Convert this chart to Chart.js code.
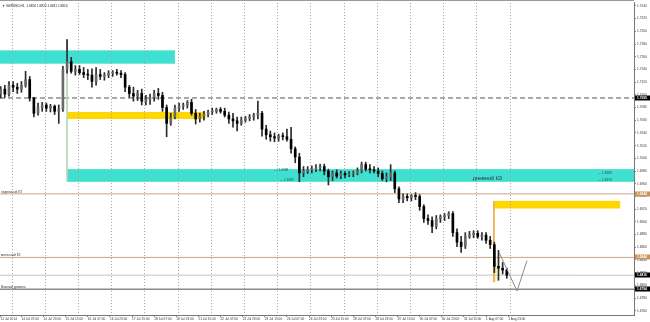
<!DOCTYPE html>
<html>
<head>
<meta charset="utf-8">
<script src="https://cdn.jsdelivr.net/npm/chart.js@4/dist/chart.umd.min.js"></script>
<style>
  html, body { margin: 0; padding: 0; background: #fff; }
  #chart { display: block; }
</style>
</head>
<body>
<canvas id="chart" width="650" height="322"></canvas>
<script>
// 캔들 데이터 (3시간 묶음, GBPUSD H1)
const candleStartHour = -9;
const candleHours = 3;

const openPrices = [
  1.7102, 1.7109, 1.7101, 1.7115, 1.7112, 1.7109, 1.7115, 1.7124, 1.7095, 1.7071,
  1.7080, 1.7084, 1.7079, 1.7082, 1.7074, 1.7077, 1.7140, 1.7152, 1.7137, 1.7140,
  1.7135, 1.7132, 1.7131, 1.7121, 1.7132, 1.7129, 1.7131, 1.7134, 1.7135, 1.7134,
  1.7132, 1.7112, 1.7102, 1.7098, 1.7102, 1.7090, 1.7093, 1.7096, 1.7102, 1.7099,
  1.7080, 1.7055, 1.7065, 1.7079, 1.7082, 1.7084, 1.7088, 1.7071, 1.7062, 1.7066,
  1.7069, 1.7073, 1.7074, 1.7077, 1.7074, 1.7068, 1.7062, 1.7059, 1.7055, 1.7060,
  1.7063, 1.7065, 1.7068, 1.7071, 1.7046, 1.7037, 1.7034, 1.7032, 1.7035, 1.7034,
  1.7030, 1.7015, 1.7002, 1.6977, 1.6980, 1.6982, 1.6983, 1.6985, 1.6987, 1.6980,
  1.6971, 1.6977, 1.6972, 1.6976, 1.6974, 1.6976, 1.6977, 1.6980, 1.6990, 1.6983,
  1.6982, 1.6980, 1.6976, 1.6968, 1.6971, 1.6977, 1.6952, 1.6936, 1.6940, 1.6938,
  1.6941, 1.6940, 1.6924, 1.6905, 1.6902, 1.6893, 1.6905, 1.6908, 1.6910, 1.6913,
  1.6883, 1.6868, 1.6861, 1.6877, 1.6880, 1.6882, 1.6877, 1.6879, 1.6871, 1.6864,
  1.6830, 1.6827, 1.6824
];
const highPrices = [
  1.7113, 1.7115, 1.7121, 1.7121, 1.7118, 1.7121, 1.7137, 1.7129, 1.7096, 1.7087,
  1.7088, 1.7087, 1.7085, 1.7084, 1.7084, 1.7145, 1.7187, 1.7159, 1.7146, 1.7146,
  1.7143, 1.7140, 1.7141, 1.7143, 1.7140, 1.7135, 1.7138, 1.7138, 1.7140, 1.7138,
  1.7135, 1.7115, 1.7112, 1.7107, 1.7109, 1.7099, 1.7101, 1.7107, 1.7110, 1.7104,
  1.7084, 1.7071, 1.7084, 1.7087, 1.7087, 1.7091, 1.7093, 1.7077, 1.7071, 1.7074,
  1.7076, 1.7079, 1.7079, 1.7080, 1.7079, 1.7073, 1.7071, 1.7065, 1.7065, 1.7066,
  1.7069, 1.7071, 1.7090, 1.7074, 1.7052, 1.7043, 1.7040, 1.7038, 1.7040, 1.7046,
  1.7049, 1.7018, 1.7008, 1.6987, 1.6987, 1.6988, 1.6990, 1.6991, 1.6991, 1.6983,
  1.6980, 1.6982, 1.6980, 1.6979, 1.6979, 1.6980, 1.6985, 1.6994, 1.6994, 1.6990,
  1.6987, 1.6985, 1.6980, 1.6977, 1.6990, 1.6980, 1.6955, 1.6944, 1.6944, 1.6943,
  1.6946, 1.6943, 1.6927, 1.6911, 1.6908, 1.6910, 1.6911, 1.6913, 1.6916, 1.6916,
  1.6889, 1.6877, 1.6883, 1.6885, 1.6886, 1.6886, 1.6883, 1.6883, 1.6877, 1.6868,
  1.6855, 1.6836, 1.6827
];
const lowPrices = [
  1.7095, 1.7096, 1.7098, 1.7105, 1.7102, 1.7104, 1.7112, 1.7090, 1.7065, 1.7068,
  1.7074, 1.7074, 1.7073, 1.7069, 1.7055, 1.7074, 1.7134, 1.7134, 1.7131, 1.7132,
  1.7127, 1.7124, 1.7112, 1.7115, 1.7124, 1.7123, 1.7127, 1.7129, 1.7131, 1.7127,
  1.7105, 1.7096, 1.7090, 1.7091, 1.7084, 1.7084, 1.7085, 1.7090, 1.7093, 1.7074,
  1.7034, 1.7052, 1.7062, 1.7074, 1.7077, 1.7079, 1.7068, 1.7054, 1.7057, 1.7060,
  1.7065, 1.7069, 1.7071, 1.7071, 1.7065, 1.7055, 1.7049, 1.7043, 1.7052, 1.7057,
  1.7059, 1.7060, 1.7062, 1.7035, 1.7030, 1.7027, 1.7026, 1.7027, 1.7029, 1.7027,
  1.7008, 1.6993, 1.6963, 1.6971, 1.6976, 1.6977, 1.6979, 1.6980, 1.6974, 1.6958,
  1.6965, 1.6969, 1.6968, 1.6969, 1.6971, 1.6971, 1.6974, 1.6977, 1.6980, 1.6977,
  1.6977, 1.6971, 1.6965, 1.6963, 1.6965, 1.6946, 1.6930, 1.6930, 1.6933, 1.6933,
  1.6935, 1.6918, 1.6899, 1.6896, 1.6883, 1.6889, 1.6899, 1.6902, 1.6905, 1.6877,
  1.6861, 1.6852, 1.6858, 1.6874, 1.6875, 1.6874, 1.6871, 1.6866, 1.6858, 1.6820,
  1.6808, 1.6818, 1.6811
];
const closePrices = [
  1.7109, 1.7101, 1.7115, 1.7112, 1.7109, 1.7115, 1.7124, 1.7095, 1.7071, 1.7080,
  1.7084, 1.7079, 1.7082, 1.7074, 1.7077, 1.7140, 1.7152, 1.7137, 1.7140, 1.7135,
  1.7132, 1.7131, 1.7121, 1.7132, 1.7129, 1.7131, 1.7134, 1.7135, 1.7134, 1.7132,
  1.7112, 1.7102, 1.7098, 1.7102, 1.7090, 1.7093, 1.7096, 1.7102, 1.7099, 1.7080,
  1.7055, 1.7065, 1.7079, 1.7082, 1.7084, 1.7088, 1.7071, 1.7062, 1.7066, 1.7069,
  1.7073, 1.7074, 1.7077, 1.7074, 1.7068, 1.7062, 1.7059, 1.7055, 1.7060, 1.7063,
  1.7065, 1.7068, 1.7071, 1.7046, 1.7037, 1.7034, 1.7032, 1.7035, 1.7034, 1.7030,
  1.7015, 1.7002, 1.6977, 1.6980, 1.6982, 1.6983, 1.6985, 1.6987, 1.6980, 1.6971,
  1.6977, 1.6972, 1.6976, 1.6974, 1.6976, 1.6977, 1.6980, 1.6990, 1.6983, 1.6982,
  1.6980, 1.6976, 1.6968, 1.6971, 1.6977, 1.6952, 1.6936, 1.6940, 1.6938, 1.6941,
  1.6940, 1.6924, 1.6905, 1.6902, 1.6893, 1.6905, 1.6908, 1.6910, 1.6913, 1.6883,
  1.6868, 1.6861, 1.6877, 1.6880, 1.6882, 1.6877, 1.6879, 1.6871, 1.6864, 1.6830,
  1.6827, 1.6824, 1.6816
];

// 축 눈금
const xTickHours = [-8, 7, 23, 39, 55, 71, 87, 103, 119, 135, 151, 167, 183, 199, 215, 231, 247, 263, 279, 295, 311, 327, 343, 359];
const xTickLabels = [
  '11 Jul 2014', '14 Jul 07:00', '14 Jul 23:00', '15 Jul 15:00', '16 Jul 07:00', '16 Jul 23:00',
  '17 Jul 15:00', '18 Jul 07:00', '18 Jul 23:00', '21 Jul 15:00', '22 Jul 07:00', '22 Jul 23:00',
  '23 Jul 15:00', '24 Jul 07:00', '24 Jul 23:00', '25 Jul 15:00', '28 Jul 07:00', '28 Jul 23:00',
  '29 Jul 15:00', '30 Jul 07:00', '30 Jul 23:00', '31 Jul 15:00', '1 Aug 07:00', '1 Aug 23:00'
];
const yTickValues = [
  1.7240, 1.7220, 1.7200, 1.7180, 1.7160, 1.7140, 1.7120, 1.7100, 1.7080, 1.7060, 1.7040, 1.7020, 1.7000,
  1.6980, 1.6960, 1.6940, 1.6920, 1.6900, 1.6880, 1.6860, 1.6840, 1.6820, 1.6800, 1.6780, 1.6760
];
const daySeparatorHours = [0, 24, 48, 72, 96, 120, 144, 168, 192, 216, 240, 264, 288, 312, 336, 360];

// 수평 레벨
const levelPrices = [1.7095, 1.6944, 1.6844, 1.6816, 1.6794];
const levelNames = ['', 'недельный КЗ', 'месячный КЗ', '', 'Важный уровень'];

// 구간 박스 (시간, 가격)
const zoneHours = [[-30, 118], [40, 140], [40, 470], [349, 440], [349, 351]];
const zonePrices = [[1.7149, 1.7170], [1.7062, 1.7073], [1.6963, 1.6983], [1.6921, 1.6933], [1.6805, 1.6836]];
const zoneTagHours = [190, 194, 424, 424];
const zoneTagPrices = [1.6982, 1.6965, 1.6976, 1.6965];
const zoneTagTexts = ['1.6988', '1.6969', '1.6983', '1.6970'];
const dailyLabelHour = 344;
const dailyLabelPrice = 1.6968;

// 보조선
const markerHours = [40, 348.7];
const markerPrices = [[1.7187, 1.6963], [1.6933, 1.6805]];
const projectionHours = [352.4, 365.4, 372.6];
const projectionPrices = [1.6852, 1.6791, 1.6839];

const xMin = -8.5;
const xMax = 450;

const candleX = openPrices.map((_, i) => candleStartHour + 1 + i * candleHours);
const fontFamily = '"Liberation Sans", Arial, sans-serif';

// 박스, 구분선, 글자 그리기
const overlayPlugin = {
  id: 'overlay',
  beforeDatasetsDraw(chart) {
    const { ctx, chartArea, scales: { x, y } } = chart;
    ctx.save();
    ctx.beginPath();
    ctx.rect(chartArea.left, chartArea.top, chartArea.right - chartArea.left, chartArea.bottom - chartArea.top);
    ctx.clip();

    // 구간 박스
    const zoneColors = ['#40e0d0', '#ffd700', '#40e0d0', '#ffd700', 'rgba(255, 215, 0, 0.3)'];
    zoneHours.forEach((hr, i) => {
      const x0 = x.getPixelForValue(hr[0]);
      const x1 = x.getPixelForValue(hr[1]);
      const y0 = y.getPixelForValue(zonePrices[i][1]);
      const y1 = y.getPixelForValue(zonePrices[i][0]);
      ctx.fillStyle = zoneColors[i];
      ctx.fillRect(x0, y0, x1 - x0, y1 - y0);
    });

    // 일 구분선
    ctx.strokeStyle = '#a4a4a4';
    ctx.lineWidth = 1;
    ctx.setLineDash([1, 2]);
    daySeparatorHours.forEach(h => {
      const px = Math.round(x.getPixelForValue(h)) + 0.5;
      ctx.beginPath();
      ctx.moveTo(px, chartArea.top);
      ctx.lineTo(px, chartArea.bottom);
      ctx.stroke();
    });
    ctx.setLineDash([]);
    ctx.restore();
  },
  afterDraw(chart) {
    const { ctx, chartArea, scales: { x, y } } = chart;
    ctx.save();

    // 위쪽 테두리
    ctx.strokeStyle = '#9a9a9a';
    ctx.lineWidth = 1;
    ctx.beginPath();
    ctx.moveTo(0, 0.5);
    ctx.lineTo(chartArea.right, 0.5);
    ctx.stroke();

    // 제목
    ctx.fillStyle = '#222';
    ctx.font = '3.2px ' + fontFamily;
    ctx.textBaseline = 'middle';
    ctx.textAlign = 'left';
    ctx.fillText('▼ GBPUSD,H1  1.6816 1.6820 1.6811 1.6816', chartArea.left + 2, chartArea.top + 3);

    // 레벨 이름
    ctx.fillStyle = '#333';
    ctx.textBaseline = 'bottom';
    levelNames.forEach((name, i) => {
      if (!name) return;
      ctx.fillText(name, chartArea.left + 1, y.getPixelForValue(levelPrices[i]) - 0.5);
    });

    // 박스 가격 표시
    ctx.textBaseline = 'middle';
    ctx.fillStyle = '#1b4f4a';
    zoneTagTexts.forEach((t, i) => {
      const px = x.getPixelForValue(zoneTagHours[i]);
      const py = y.getPixelForValue(zoneTagPrices[i]);
      ctx.fillText('— ' + t, px, py);
    });

    ctx.font = '5.5px ' + fontFamily;
    ctx.fillStyle = '#2a3a38';
    ctx.textAlign = 'center';
    ctx.fillText('дневной КЗ', x.getPixelForValue(dailyLabelHour), y.getPixelForValue(dailyLabelPrice));

    // 오른쪽 축 가격 라벨
    const boxColors = ['#000', '#c9925a', '#c9925a', '#000', '#000'];
    ctx.font = 'bold 3.2px ' + fontFamily;
    ctx.textAlign = 'left';
    levelPrices.forEach((p, i) => {
      const py = Math.round(y.getPixelForValue(p));
      ctx.fillStyle = boxColors[i];
      ctx.fillRect(chartArea.right + 1, py - 2.5, chart.width - chartArea.right - 1, 5);
      ctx.fillStyle = '#fff';
      ctx.fillText(p.toFixed(4), chartArea.right + 3, py);
    });
    ctx.restore();
  }
};

const levelColors = ['#555555', '#c8a47c', '#c8a47c', '#c4c4c4', '#8a8a8a'];
const levelDatasets = levelPrices.map((p, i) => ({
  type: 'line',
  data: [{ x: xMin, y: p }, { x: xMax, y: p }],
  borderColor: levelColors[i],
  borderWidth: i === 4 ? 1.5 : 1,
  borderDash: i === 0 ? [5, 3] : [],
  pointRadius: 0,
  order: 5
}));

const markerDatasets = markerHours.map((h, i) => ({
  type: 'line',
  data: [{ x: h, y: markerPrices[i][0] }, { x: h, y: markerPrices[i][1] }],
  borderColor: i === 0 ? '#b9d9b4' : '#f0a030',
  borderWidth: i === 0 ? 1 : 1.5,
  pointRadius: 0,
  order: 4
}));

new Chart(document.getElementById('chart'), {
  type: 'bar',
  data: {
    datasets: [
      {
        data: candleX.map((cx, i) => ({ x: cx, y: [lowPrices[i], highPrices[i]] })),
        backgroundColor: '#2a2a2a',
        barThickness: 1,
        grouped: false,
        order: 2
      },
      {
        data: candleX.map((cx, i) => ({ x: cx, y: [openPrices[i], closePrices[i]] })),
        backgroundColor: closePrices.map((c, i) => c >= openPrices[i] ? '#6a6a6a' : '#000'),
        barThickness: 2,
        minBarLength: 1,
        grouped: false,
        order: 1
      },
      ...levelDatasets,
      ...markerDatasets,
      {
        type: 'line',
        data: projectionHours.map((h, i) => ({ x: h, y: projectionPrices[i] })),
        borderColor: '#8a8a8a',
        borderWidth: 1,
        pointRadius: 0,
        order: 0
      }
    ]
  },
  options: {
    responsive: false,
    animation: false,
    devicePixelRatio: 1,
    layout: { padding: { top: 1, left: 0, right: 0, bottom: 0 } },
    plugins: { legend: { display: false }, tooltip: { enabled: false } },
    scales: {
      x: {
        type: 'linear',
        min: xMin,
        max: xMax,
        offset: false,
        grid: { display: true, drawOnChartArea: false, drawTicks: true, tickLength: 2, color: '#888', offset: false },
        border: { display: true, color: '#777' },
        ticks: {
          font: { size: 3.2, family: fontFamily },
          color: '#333',
          align: 'start',
          maxRotation: 0,
          minRotation: 0,
          autoSkip: false,
          padding: 0,
          callback: (v, i) => xTickLabels[i]
        },
        afterBuildTicks: scale => { scale.ticks = xTickHours.map(v => ({ value: v })); },
        afterFit: scale => { scale.height = 7; }
      },
      y: {
        type: 'linear',
        position: 'right',
        min: 1.67533,
        max: 1.72447,
        beginAtZero: false,
        grid: { display: true, drawOnChartArea: false, drawTicks: true, tickLength: 2, color: '#888' },
        border: { display: true, color: '#777' },
        ticks: {
          font: { size: 3.2, family: fontFamily },
          color: '#333',
          padding: 1,
          callback: v => v.toFixed(4)
        },
        afterBuildTicks: scale => { scale.ticks = yTickValues.map(v => ({ value: v })); },
        afterFit: scale => { scale.width = 16; }
      }
    }
  },
  plugins: [overlayPlugin]
});
</script>
</body>
</html>
